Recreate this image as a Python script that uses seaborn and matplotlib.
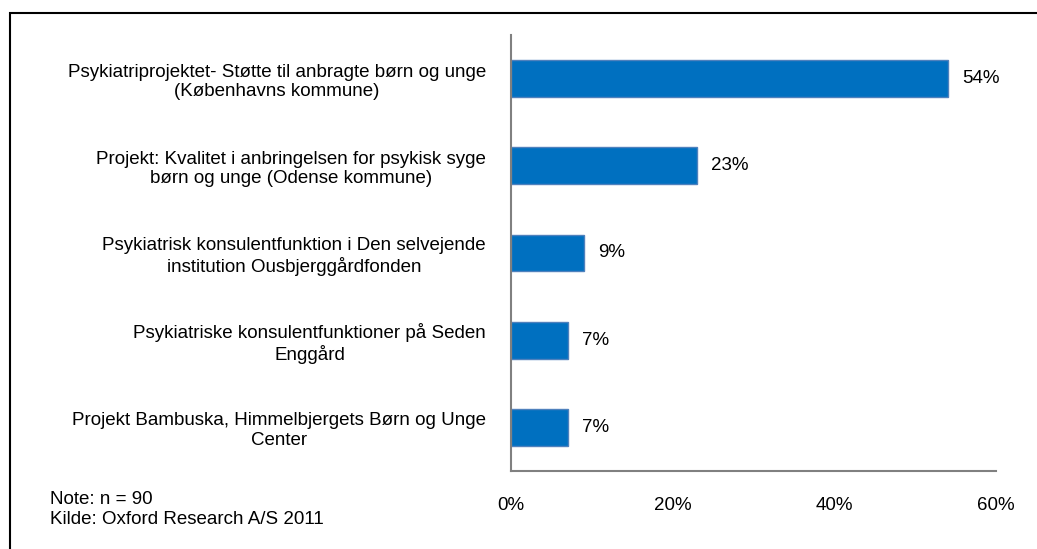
import matplotlib.pyplot as plt
import seaborn as sns
import pandas as pd
from matplotlib.patches import Rectangle

sns.set_style("white")
plt.rcParams.update({
    "font.family": ["Liberation Sans", "DejaVu Sans"],
    "font.size": 13.5,
    "text.color": "black",
    "xtick.color": "black",
    "ytick.color": "black",
})

# data
categories = [
    "Psykiatriprojektet- Støtte til anbragte børn og unge\n(Københavns kommune)",
    "Projekt: Kvalitet i anbringelsen for psykisk syge\nbørn og unge (Odense kommune)",
    "Psykiatrisk konsulentfunktion i Den selvejende\ninstitution Ousbjerggårdfonden",
    "Psykiatriske konsulentfunktioner på Seden\nEnggård",
    "Projekt Bambuska, Himmelbjergets Børn og Unge\nCenter",
]
values = [54, 23, 9, 7, 7]
xticks = [0, 20, 40, 60]
df = pd.DataFrame({"cat": categories, "val": values})

fig = plt.figure(figsize=(10.37, 5.49), dpi=100)
ax = fig.add_axes([511 / 1037, 1 - 471 / 549, (996 - 511) / 1037, (471 - 35) / 549])

sns.barplot(data=df, y="cat", x="val", orient="h", color="#0070C0",
            edgecolor="#4F81BD", linewidth=1, width=0.42, saturation=1, ax=ax)

for i, v in enumerate(values):
    ax.text(v + 1.8, i, f"{v}%", va="center", ha="left", fontsize=13.5)

ax.set_xlim(0, 60)
ax.set_ylim(4.5, -0.5)
ax.set_xticks(xticks)
ax.set_xticklabels([f"{t}%" for t in xticks])
ax.set_xlabel("")
ax.set_ylabel("")
ax.tick_params(axis="x", length=0, pad=19, labelsize=13.5)
ax.tick_params(axis="y", length=0, pad=18, labelsize=13.5)
for lbl in ax.get_yticklabels():
    lbl.set_multialignment("center")

for s in ["top", "right"]:
    ax.spines[s].set_visible(False)
for s in ["left", "bottom"]:
    ax.spines[s].set_color("#808080")
    ax.spines[s].set_linewidth(1.5)

fig.text(50 / 1037, 1 - 500 / 549, "Note: n = 90", fontsize=13.5, va="center")
fig.text(50 / 1037, 1 - 520 / 549, "Kilde: Oxford Research A/S 2011", fontsize=13.5, va="center")

# outer frame
fig.patches.append(Rectangle((10 / 1037, -0.05), 1.1, 1.05 - 13 / 549,
                             transform=fig.transFigure, fill=False,
                             edgecolor="black", linewidth=1.5))

fig.savefig("out.png", dpi=100)
